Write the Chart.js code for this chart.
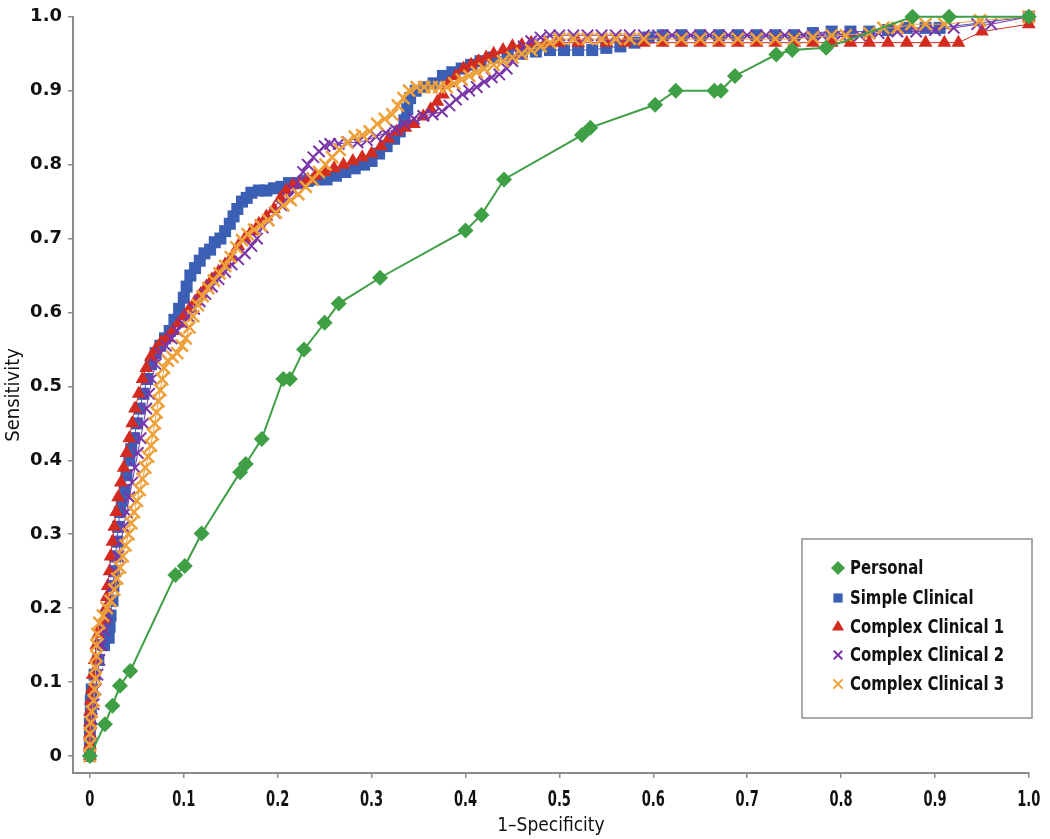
<!DOCTYPE html>
<html>
<head>
<meta charset="utf-8">
<script src="https://cdn.jsdelivr.net/npm/chart.js@4.4.1/dist/chart.umd.min.js"></script>
<style>
body { margin: 0; background: #fff; }
</style>
</head>
<body>
<canvas id="rocChart" width="1050" height="839"></canvas>
<script>
// ticks
var ticksX = [0, 0.1, 0.2, 0.3, 0.4, 0.5, 0.6, 0.7, 0.8, 0.9, 1.0];
var ticksY = [0, 0.1, 0.2, 0.3, 0.4, 0.5, 0.6, 0.7, 0.8, 0.9, 1.0];
var labelsX = ['0', '0.1', '0.2', '0.3', '0.4', '0.5', '0.6', '0.7', '0.8', '0.9', '1.0'];
var labelsY = ['0', '0.1', '0.2', '0.3', '0.4', '0.5', '0.6', '0.7', '0.8', '0.9', '1.0'];

var nomes = ['Personal', 'Simple Clinical', 'Complex Clinical 1', 'Complex Clinical 2', 'Complex Clinical 3'];

// [1-specificity, sensitivity]
var personal = [[0,0],[0.016,0.043],[0.024,0.068],[0.032,0.095],[0.043,0.115],[0.091,0.245],[0.101,0.257],
  [0.119,0.301],[0.16,0.384],[0.166,0.395],[0.183,0.429],[0.206,0.51],[0.213,0.51],[0.228,0.55],[0.25,0.586],
  [0.265,0.612],[0.309,0.647],[0.4,0.711],[0.417,0.732],[0.441,0.78],[0.524,0.84],[0.533,0.85],[0.602,0.881],
  [0.624,0.9],[0.665,0.9],[0.672,0.9],[0.687,0.92],[0.731,0.949],[0.748,0.955],[0.784,0.958],[0.876,1.0],
  [0.915,1.0],[1,1]];

var simpleClinical = [[0,0],[0,0.015],[0,0.03],[0,0.045],[0.001,0.06],[0.001,0.075],[0.002,0.09],[0.005,0.11],
  [0.009,0.13],[0.015,0.15],[0.02,0.16],[0.021,0.175],[0.022,0.19],[0.024,0.21],[0.025,0.23],[0.026,0.25],
  [0.027,0.27],[0.029,0.29],[0.03,0.31],[0.032,0.33],[0.034,0.345],[0.037,0.36],[0.039,0.38],[0.042,0.4],
  [0.044,0.415],[0.047,0.43],[0.05,0.45],[0.053,0.47],[0.057,0.49],[0.061,0.51],[0.065,0.53],[0.07,0.545],
  [0.075,0.555],[0.08,0.565],[0.085,0.575],[0.09,0.59],[0.095,0.605],[0.1,0.62],[0.103,0.635],[0.107,0.65],
  [0.112,0.66],[0.117,0.67],[0.122,0.68],[0.128,0.685],[0.133,0.695],[0.139,0.7],[0.144,0.71],[0.149,0.72],
  [0.153,0.73],[0.157,0.74],[0.162,0.75],[0.167,0.755],[0.172,0.762],[0.18,0.765],[0.188,0.765],[0.196,0.768],
  [0.204,0.77],[0.212,0.775],[0.222,0.775],[0.232,0.778],[0.242,0.78],[0.252,0.78],[0.262,0.785],[0.272,0.79],
  [0.282,0.795],[0.292,0.8],[0.3,0.805],[0.308,0.815],[0.316,0.825],[0.324,0.835],[0.33,0.845],[0.335,0.86],
  [0.338,0.875],[0.341,0.89],[0.347,0.9],[0.356,0.905],[0.366,0.91],[0.376,0.92],[0.386,0.925],[0.396,0.93],
  [0.406,0.935],[0.416,0.94],[0.43,0.945],[0.445,0.948],[0.46,0.95],[0.475,0.953],[0.49,0.955],[0.505,0.955],
  [0.52,0.955],[0.535,0.955],[0.55,0.958],[0.565,0.96],[0.58,0.965],[0.595,0.972],[0.61,0.975],[0.63,0.975],
  [0.65,0.975],[0.67,0.975],[0.69,0.975],[0.71,0.975],[0.73,0.975],[0.75,0.975],[0.77,0.978],[0.79,0.98],
  [0.81,0.98],[0.83,0.98],[0.85,0.982],[0.87,0.985],[0.89,0.985],[0.905,0.985],[1,1]];

var complex1 = [[0,0],[0,0.015],[0,0.03],[0,0.045],[0,0.06],[0.001,0.075],[0.002,0.09],[0.003,0.11],[0.005,0.13],
  [0.007,0.15],[0.009,0.165],[0.012,0.175],[0.015,0.185],[0.017,0.2],[0.018,0.215],[0.019,0.23],[0.021,0.25],
  [0.022,0.27],[0.024,0.29],[0.026,0.31],[0.028,0.33],[0.03,0.35],[0.033,0.37],[0.036,0.39],[0.039,0.41],
  [0.042,0.43],[0.045,0.45],[0.048,0.47],[0.052,0.49],[0.056,0.51],[0.06,0.525],[0.065,0.54],[0.07,0.55],
  [0.076,0.56],[0.082,0.565],[0.088,0.575],[0.094,0.585],[0.1,0.595],[0.106,0.605],[0.112,0.615],[0.118,0.625],
  [0.124,0.635],[0.13,0.645],[0.137,0.655],[0.144,0.665],[0.151,0.675],[0.158,0.69],[0.165,0.7],[0.172,0.71],
  [0.18,0.72],[0.188,0.73],[0.196,0.74],[0.203,0.755],[0.209,0.765],[0.216,0.772],[0.224,0.775],[0.232,0.78],
  [0.24,0.785],[0.25,0.79],[0.26,0.795],[0.27,0.8],[0.28,0.805],[0.29,0.81],[0.3,0.815],[0.31,0.825],
  [0.318,0.835],[0.327,0.845],[0.336,0.85],[0.345,0.855],[0.355,0.865],[0.363,0.875],[0.37,0.885],[0.376,0.895],
  [0.382,0.91],[0.39,0.92],[0.398,0.93],[0.406,0.935],[0.414,0.94],[0.422,0.945],[0.43,0.95],[0.44,0.955],
  [0.45,0.96],[0.46,0.962],[0.47,0.965],[0.485,0.965],[0.5,0.965],[0.52,0.965],[0.55,0.965],[0.57,0.965],
  [0.59,0.965],[0.61,0.965],[0.63,0.965],[0.65,0.965],[0.67,0.965],[0.69,0.965],[0.71,0.965],[0.73,0.965],
  [0.75,0.965],[0.77,0.965],[0.79,0.965],[0.81,0.965],[0.83,0.965],[0.85,0.965],[0.87,0.965],[0.89,0.965],
  [0.91,0.965],[0.925,0.965],[0.95,0.98],[1,0.99],[1,1]];

var complex2 = [[0,0],[0,0.015],[0.001,0.03],[0.002,0.05],[0.004,0.07],[0.006,0.09],[0.008,0.11],[0.01,0.13],
  [0.012,0.15],[0.015,0.17],[0.018,0.19],[0.021,0.21],[0.024,0.23],[0.027,0.25],[0.03,0.27],[0.033,0.29],
  [0.036,0.31],[0.039,0.33],[0.042,0.35],[0.045,0.37],[0.048,0.39],[0.051,0.41],[0.054,0.43],[0.057,0.45],
  [0.06,0.47],[0.063,0.49],[0.066,0.51],[0.07,0.53],[0.075,0.545],[0.081,0.555],[0.087,0.565],[0.093,0.575],
  [0.099,0.585],[0.105,0.595],[0.111,0.605],[0.117,0.615],[0.123,0.625],[0.13,0.635],[0.137,0.645],[0.144,0.655],
  [0.151,0.665],[0.158,0.672],[0.165,0.68],[0.172,0.69],[0.178,0.7],[0.184,0.715],[0.19,0.725],[0.197,0.735],
  [0.204,0.745],[0.211,0.755],[0.217,0.765],[0.222,0.775],[0.227,0.79],[0.232,0.8],[0.238,0.81],[0.244,0.818],
  [0.25,0.825],[0.256,0.828],[0.265,0.828],[0.275,0.83],[0.285,0.83],[0.295,0.833],[0.305,0.838],[0.315,0.843],
  [0.325,0.848],[0.335,0.855],[0.345,0.862],[0.355,0.866],[0.365,0.868],[0.375,0.872],[0.383,0.88],[0.39,0.888],
  [0.397,0.895],[0.404,0.9],[0.412,0.905],[0.42,0.912],[0.428,0.918],[0.436,0.922],[0.444,0.93],[0.45,0.94],
  [0.456,0.95],[0.462,0.96],[0.47,0.967],[0.48,0.972],[0.49,0.975],[0.5,0.975],[0.515,0.975],[0.53,0.975],
  [0.545,0.975],[0.56,0.975],[0.575,0.975],[0.59,0.975],[0.605,0.975],[0.62,0.975],[0.64,0.975],[0.66,0.975],
  [0.68,0.975],[0.7,0.975],[0.72,0.975],[0.74,0.975],[0.76,0.975],[0.78,0.975],[0.8,0.975],[0.82,0.975],
  [0.84,0.978],[0.86,0.98],[0.88,0.98],[0.9,0.982],[0.92,0.985],[0.945,0.99],[0.96,0.99],[1,1]];

var complex3 = [[0,0],[0,0.015],[0,0.03],[0.001,0.045],[0.002,0.06],[0.004,0.075],[0.005,0.09],[0.006,0.105],
  [0.006,0.12],[0.007,0.135],[0.007,0.15],[0.008,0.165],[0.01,0.18],[0.014,0.19],[0.018,0.2],[0.022,0.21],
  [0.026,0.225],[0.029,0.24],[0.032,0.255],[0.035,0.27],[0.038,0.285],[0.041,0.3],[0.044,0.315],[0.047,0.33],
  [0.05,0.345],[0.053,0.36],[0.056,0.375],[0.059,0.39],[0.062,0.405],[0.065,0.42],[0.067,0.435],[0.069,0.45],
  [0.071,0.465],[0.073,0.48],[0.075,0.495],[0.077,0.51],[0.079,0.525],[0.083,0.535],[0.088,0.54],[0.093,0.545],
  [0.098,0.555],[0.102,0.565],[0.106,0.58],[0.11,0.595],[0.115,0.61],[0.12,0.622],[0.126,0.633],[0.132,0.643],
  [0.138,0.653],[0.144,0.663],[0.15,0.675],[0.156,0.688],[0.162,0.698],[0.168,0.706],[0.175,0.712],[0.182,0.718],
  [0.19,0.725],[0.198,0.735],[0.206,0.745],[0.214,0.752],[0.222,0.76],[0.23,0.77],[0.237,0.78],[0.244,0.79],
  [0.251,0.8],[0.258,0.81],[0.266,0.82],[0.274,0.83],[0.282,0.838],[0.29,0.84],[0.298,0.845],[0.306,0.855],
  [0.314,0.862],[0.322,0.868],[0.328,0.88],[0.334,0.89],[0.34,0.9],[0.348,0.905],[0.356,0.905],[0.364,0.905],
  [0.372,0.905],[0.38,0.905],[0.388,0.91],[0.396,0.915],[0.404,0.92],[0.412,0.925],[0.42,0.93],[0.43,0.935],
  [0.44,0.94],[0.45,0.945],[0.46,0.95],[0.47,0.955],[0.48,0.96],[0.49,0.965],[0.5,0.97],[0.515,0.97],
  [0.53,0.97],[0.545,0.97],[0.56,0.97],[0.575,0.97],[0.59,0.97],[0.61,0.97],[0.63,0.97],[0.65,0.97],
  [0.67,0.97],[0.69,0.97],[0.71,0.97],[0.73,0.97],[0.75,0.97],[0.77,0.972],[0.79,0.975],[0.805,0.975],
  [0.83,0.978],[0.845,0.985],[0.86,0.985],[0.875,0.99],[0.89,0.99],[0.91,0.99],[0.948,0.995],[1,1]];

var corVerde = '#3f9f45';
var corAzul = '#3a5fb5';
var corVermelho = '#d32b1f';
var corRoxo = '#7a35a8';
var corLaranja = '#eea13a';

var fonteNarrow = "'Liberation Sans Narrow', 'DejaVu Sans Condensed', sans-serif";

function pontos(lista) {
    return lista.map(function (p) { return { x: p[0], y: p[1] }; });
}

function serie(label, lista, cor, estilo, raio, larguraPonto, larguraLinha, ordem) {
    return {
        label: label,
        data: pontos(lista),
        borderColor: cor,
        backgroundColor: cor,
        pointBackgroundColor: cor,
        pointBorderColor: cor,
        pointStyle: estilo,
        pointRadius: raio,
        pointBorderWidth: larguraPonto,
        borderWidth: larguraLinha,
        showLine: true,
        tension: 0,
        clip: false,
        order: ordem
    };
}

// text squeezed sideways, the original uses a condensed face
function textoEstreito(ctx, texto, x, y, escala) {
    ctx.save();
    ctx.translate(x, y);
    ctx.scale(escala, 1);
    ctx.fillText(texto, 0, 0);
    ctx.restore();
}

// x tick labels drawn by hand so they can be narrow
const rotulosX = {
    id: 'rotulosX',
    afterDraw: function (chart) {
        var ctx = chart.ctx;
        var escala = chart.scales.x;
        ctx.save();
        ctx.fillStyle = '#111';
        ctx.font = 'bold 22px ' + fonteNarrow;
        ctx.textAlign = 'center';
        ctx.textBaseline = 'top';
        ticksX.forEach(function (v, i) {
            textoEstreito(ctx, labelsX[i], escala.getPixelForValue(v), 789, 0.66);
        });
        ctx.restore();
    }
};

// boxed legend inside the plot area
const legendaCaixa = {
    id: 'legendaCaixa',
    afterDraw: function (chart) {
        var ctx = chart.ctx;
        ctx.save();
        ctx.strokeStyle = '#8e8e8e';
        ctx.lineWidth = 1.5;
        ctx.strokeRect(802, 539, 230, 179);
        var linhas = [568, 598, 627, 655, 684];
        var tamanhos = [7, 6.5, 7, 6, 6.5];
        chart.data.datasets.forEach(function (ds, i) {
            var opts = {
                pointStyle: ds.pointStyle,
                radius: tamanhos[i],
                rotation: 0,
                borderWidth: ds.pointStyle === 'crossRot' ? 2 : 0
            };
            ctx.fillStyle = ds.pointBackgroundColor;
            ctx.strokeStyle = ds.pointBorderColor;
            ctx.lineWidth = opts.borderWidth;
            Chart.helpers.drawPoint(ctx, opts, 838, linhas[i]);
            ctx.fillStyle = '#111';
            ctx.font = 'bold 20px ' + fonteNarrow;
            ctx.textBaseline = 'middle';
            ctx.textAlign = 'left';
            textoEstreito(ctx, ds.label, 850, linhas[i] + 1, 0.83);
        });
        ctx.restore();
    }
};

function gerarGrafico() {
    const data = {
        datasets: [
            serie(nomes[0], personal, corVerde, 'rectRot', 8, 0, 2, 0),
            serie(nomes[1], simpleClinical, corAzul, 'rect', 8.5, 0, 1, 4),
            serie(nomes[2], complex1, corVermelho, 'triangle', 8, 0, 1, 3),
            serie(nomes[3], complex2, corRoxo, 'crossRot', 8, 2, 1, 2),
            serie(nomes[4], complex3, corLaranja, 'crossRot', 8.5, 2.5, 1, 1)
        ]
    };

    const config = {
        type: 'scatter',
        data: data,
        plugins: [rotulosX, legendaCaixa],
        options: {
            responsive: false,
            animation: false,
            events: [],
            layout: {
                padding: { top: 15, right: 20, left: 0, bottom: 0 }
            },
            plugins: {
                legend: { display: false },
                tooltip: { enabled: false }
            },
            scales: {
                x: {
                    type: 'linear',
                    position: 'bottom',
                    min: -0.018,
                    max: 1.0,
                    afterBuildTicks: function (axis) {
                        axis.ticks = ticksX.map(function (v) { return { value: v }; });
                    },
                    afterFit: function (axis) { axis.height = 66; },
                    border: { display: true, color: '#8c8c8c', width: 2 },
                    grid: {
                        display: true,
                        drawOnChartArea: false,
                        drawTicks: true,
                        tickLength: 5,
                        color: '#8c8c8c',
                        lineWidth: 1.5
                    },
                    ticks: {
                        autoSkip: false,
                        maxRotation: 0,
                        padding: 10,
                        color: 'rgba(0,0,0,0)',
                        font: { family: fonteNarrow, size: 14, weight: 'bold' },
                        callback: function (v) {
                            var i = ticksX.indexOf(v);
                            return i >= 0 ? labelsX[i] : '';
                        }
                    },
                    title: {
                        display: true,
                        text: '1–Specificity',
                        color: '#111',
                        font: { family: fonteNarrow, size: 19 },
                        padding: { top: 0, bottom: 2 }
                    }
                },
                y: {
                    type: 'linear',
                    min: -0.023,
                    max: 1.0,
                    afterBuildTicks: function (axis) {
                        axis.ticks = ticksY.map(function (v) { return { value: v }; });
                    },
                    afterFit: function (axis) { axis.width = 73; },
                    border: { display: true, color: '#8c8c8c', width: 2 },
                    grid: {
                        display: true,
                        drawOnChartArea: false,
                        drawTicks: true,
                        tickLength: 5,
                        color: '#8c8c8c',
                        lineWidth: 1.5
                    },
                    ticks: {
                        autoSkip: false,
                        padding: 6,
                        color: '#111',
                        font: { family: "'DejaVu Sans', sans-serif", size: 18, weight: 'bold' },
                        callback: function (v) {
                            var i = ticksY.indexOf(v);
                            return i >= 0 ? labelsY[i] : '';
                        }
                    },
                    title: {
                        display: true,
                        text: 'Sensitivity',
                        color: '#111',
                        font: { family: fonteNarrow, size: 20 },
                        padding: { top: 2, bottom: 0 }
                    }
                }
            }
        }
    };

    const grafico = new Chart(document.getElementById('rocChart'), config);
}

gerarGrafico();
</script>
</body>
</html>
